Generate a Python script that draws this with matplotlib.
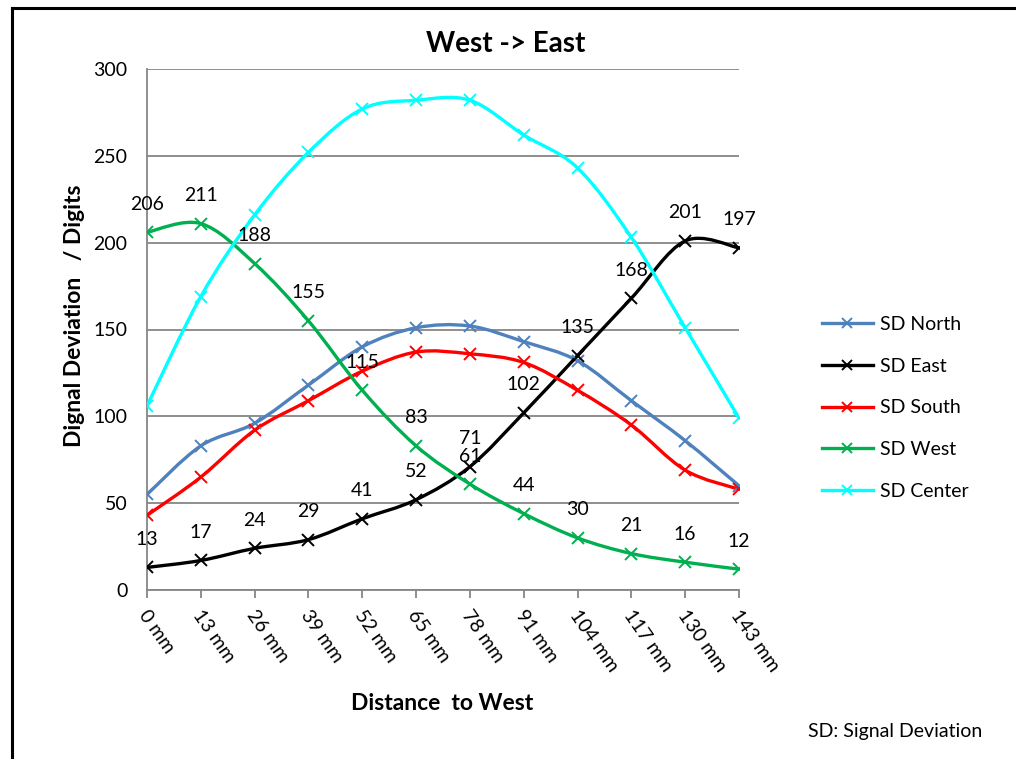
import numpy as np
import matplotlib.pyplot as plt
from matplotlib.path import Path
from matplotlib.patches import PathPatch
from matplotlib.lines import Line2D

plt.rcParams['font.family'] = ['Lato', 'DejaVu Sans']

# --- data ---
categories = ['0 mm', '13 mm', '26 mm', '39 mm', '52 mm', '65 mm',
              '78 mm', '91 mm', '104 mm', '117 mm', '130 mm', '143 mm']
sd_north = [55, 83, 96, 118, 140, 151, 152, 143, 132, 109, 86, 60]
sd_east = [13, 17, 24, 29, 41, 52, 71, 102, 135, 168, 201, 197]
sd_south = [43, 65, 92, 109, 126, 137, 136, 131, 115, 95, 69, 58]
sd_west = [206, 211, 188, 155, 115, 83, 61, 44, 30, 21, 16, 12]
sd_center = [106, 169, 216, 252, 277, 282, 282, 262, 243, 203, 151, 99]

series = [
    ('SD North', sd_north, '#4F81BD', False),
    ('SD East', sd_east, '#000000', True),
    ('SD South', sd_south, '#FF0000', False),
    ('SD West', sd_west, '#00B050', True),
    ('SD Center', sd_center, '#00FFFF', False),
]

GRID = '#868686'


def smooth_path(xs, ys):
    # Excel-like smoothed line: cubic bezier through every point
    pts = np.column_stack([xs, ys]).astype(float)
    n = len(pts)
    verts = [pts[0]]
    codes = [Path.MOVETO]
    for i in range(n - 1):
        p0 = pts[max(i - 1, 0)]
        p1 = pts[i]
        p2 = pts[i + 1]
        p3 = pts[min(i + 2, n - 1)]
        verts += [p1 + (p2 - p0) / 6, p2 - (p3 - p1) / 6, p2]
        codes += [Path.CURVE4] * 3
    return Path(verts, codes)


fig = plt.figure(figsize=(10.16, 7.59), dpi=100)
ax = fig.add_axes([147 / 1016, 1 - 590 / 759, 592 / 1016, 521 / 759])

x = np.arange(len(categories))
handles = []
for name, vals, col, labelled in series:
    ax.add_patch(PathPatch(smooth_path(x, vals), facecolor='none',
                           edgecolor=col, lw=2.4, zorder=3))
    ax.plot(x, vals, ls='none', marker='x', ms=9, mew=1.4, color=col, zorder=4)
    if labelled:
        for xi, v in zip(x, vals):
            ax.annotate(str(v), (xi, v), xytext=(0, 14), textcoords='offset points',
                        ha='center', va='bottom', fontsize=14, zorder=5)
    handles.append(Line2D([], [], color=col, lw=2.4, marker='x', ms=7, mew=1.4))

ax.set_xlim(0, len(categories) - 1)
ax.set_ylim(0, 300)
ax.set_yticks(np.arange(0, 301, 50))
ax.set_xticks(x)
ax.set_xticklabels([])
ax.grid(axis='y', color=GRID, lw=1.3)
ax.set_axisbelow(True)
for s in ['top', 'right']:
    ax.spines[s].set_visible(False)
for s in ['left', 'bottom']:
    ax.spines[s].set_color(GRID)
    ax.spines[s].set_linewidth(1.3)
ax.tick_params(axis='y', length=0, pad=14, labelsize=14)
ax.tick_params(axis='x', length=6, width=1.3, color=GRID, direction='out')

# rotated category labels
for xi, lab in zip(x, categories):
    ax.annotate(lab, (xi, 0), xytext=(-3, -16), textcoords='offset points',
                rotation=-55, rotation_mode='anchor', ha='left', va='center',
                fontsize=14, annotation_clip=False)

fig.text(506 / 1016, 1 - 44 / 759, 'West -> East', ha='center', va='center',
         fontsize=20, fontweight='bold')
fig.text(75 / 1016, 1 - 316 / 759, 'Dignal Deviation   / Digits', rotation=90,
         ha='center', va='center', fontsize=16.5, fontweight='bold')
fig.text(442 / 1016, 1 - 703 / 759, 'Distance  to West', ha='center', va='center',
         fontsize=16.5, fontweight='bold')
fig.text(808 / 1016, 1 - 731 / 759, 'SD: Signal Deviation', ha='left', va='center',
         fontsize=14)

fig.legend(handles, [s[0] for s in series], loc='upper left',
           bbox_to_anchor=(822 / 1016, 1 - 316 / 759), frameon=False,
           fontsize=14, handlelength=2.6, handletextpad=0.4, labelspacing=1.27,
           borderpad=0, borderaxespad=0)

# outer frame (left and top edges visible)
fig.add_artist(Line2D([12 / 1016, 12 / 1016], [0, 1 - 8 / 759], transform=fig.transFigure,
                      color='black', lw=2.2))
fig.add_artist(Line2D([12 / 1016, 1], [1 - 8 / 759, 1 - 8 / 759], transform=fig.transFigure,
                      color='black', lw=2.2))

plt.savefig('out.png', dpi=100)
